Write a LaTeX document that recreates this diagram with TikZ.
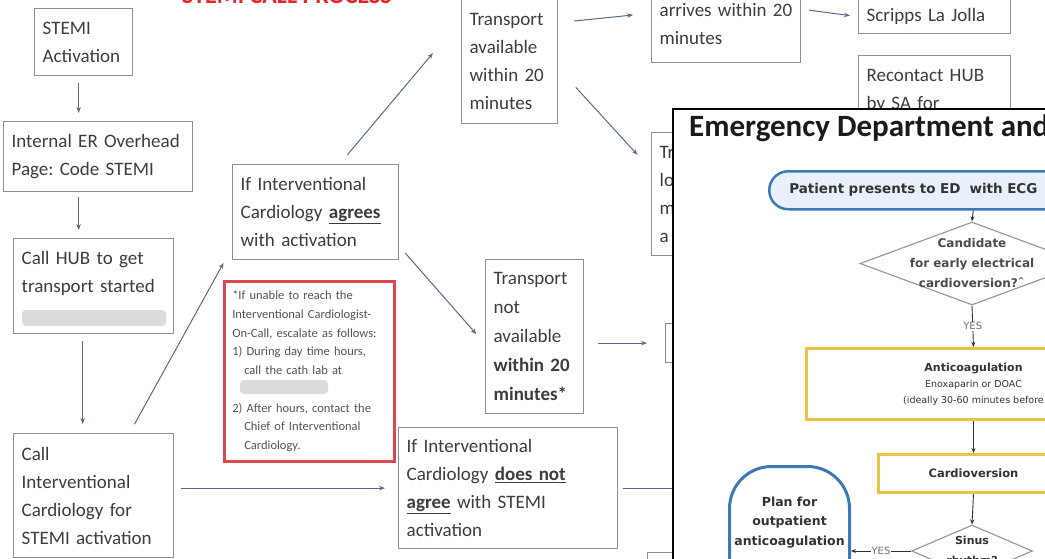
\documentclass[tikz,border=0pt]{standalone}
\usepackage{fontspec}
\setmainfont{Carlito}
\newfontfamily\ovf{DejaVu Sans}
\usetikzlibrary{arrows.meta,shapes.geometric,calc}
\definecolor{boxgray}{HTML}{8F8F8F}
\definecolor{txtc}{HTML}{3D3D3D}
\definecolor{arrowc}{HTML}{5A6A8C}
\definecolor{redc}{HTML}{D9474F}
\definecolor{redtxt}{HTML}{555555}
\definecolor{titlered}{HTML}{E8232A}
\definecolor{bluec}{HTML}{3D7AB5}
\definecolor{lightbluec}{HTML}{E8F1F9}
\definecolor{yellowc}{HTML}{E8C547}
\definecolor{diagray}{HTML}{9A9A9A}
\definecolor{ovtext}{HTML}{333333}
\definecolor{ovtitle}{HTML}{1A1A1A}
\definecolor{yesc}{HTML}{707070}
\begin{document}
\begin{tikzpicture}[x=1pt,y=-1pt,
  bx/.style={draw=boxgray, line width=1.3pt, anchor=north west, align=left,
    inner xsep=8pt, inner ysep=0pt, text=txtc, fill=white,
    font=\fontsize{19}{28}\selectfont},
  arr/.style={draw=arrowc, line width=1pt, -{Stealth[length=6pt,width=4.5pt]}},
  oarr/.style={draw=black!80, line width=0.9pt, -{Stealth[length=5pt,width=4pt]}},
  ovbold/.style={font=\ovf\bfseries\fontsize{12}{20}\selectfont, text=ovtext},
  yeslab/.style={fill=white, inner sep=1pt, font=\ovf\fontsize{10}{11}\selectfont, text=yesc},
  blur/.style={fill=gray!28, draw=none, rounded corners=4pt}
]
\useasboundingbox (0,0) rectangle (1045,558);
\clip (0,0) rectangle (1045,558);
\fill[white] (0,0) rectangle (1045,558);

% ---------- main STEMI flowchart ----------
\node[anchor=base west, inner sep=0, font=\bfseries\fontsize{24}{24}\selectfont, text=titlered] (maintitle) at (182,3) {STEMI CALL PROCESS};

\node[bx, minimum width=98pt, text width=82pt, minimum height=67pt] (stemi) at (34,8) {STEMI\\Activation};
\node[bx, minimum width=189pt, text width=173pt, minimum height=70pt] (er) at (3,121) {Internal~ER~Overhead\\Page:~Code~STEMI};
\node[bx, minimum width=160pt, text width=144pt, minimum height=95pt] (hub) at (13,238) {Call~HUB~to~get\\transport~started\\\mbox{}};
\fill[blur] (22,310) rectangle (166,326);
\node[bx, minimum width=160pt, text width=144pt, minimum height=124pt] (callic) at (13,433) {Call\\Interventional\\Cardiology~for\\STEMI~activation};
\node[bx, minimum width=166pt, text width=150pt, minimum height=95pt] (agree) at (232,164) {If~Interventional\\Cardiology~\underline{\textbf{agrees}}\\with~activation};
\node[bx, draw=redc, line width=2.5pt, minimum width=170pt, text width=154pt, minimum height=180pt, text=redtxt, font=\fontsize{12.5}{18.75}\selectfont] (note) at (223,280) {*If~unable~to~reach~the\\Interventional~Cardiologist-\\On-Call,~escalate~as~follows:\\1)~During~day~time~hours,\\\hspace*{12pt}call~the~cath~lab~at\\\mbox{}\\2)~After~hours,~contact~the\\\hspace*{12pt}Chief~of~Interventional\\\hspace*{12pt}Cardiology.};
\fill[blur] (240,380) rectangle (328,394);
\node[bx, minimum width=96pt, text width=80pt, minimum height=125pt] (tavail) at (461,-2) {Transport\\available\\within~20\\minutes};
\node[bx, minimum width=149pt, text width=133pt, minimum height=77pt] (arrives) at (651,-15) {arrives~within~20\\minutes};
\node[bx, minimum width=152pt, text width=136pt, minimum height=34pt] (scripps) at (858,-1) {Scripps~La~Jolla};
\node[bx, minimum width=152pt, text width=136pt, minimum height=71pt] (recontact) at (858,55) {Recontact~HUB\\by~SA~for};
\node[bx, minimum width=80pt, text width=64pt, minimum height=123pt] (tloc) at (651,132) {Tr\\lo\\m\\a};
\node[bx, minimum width=98pt, text width=82pt, minimum height=154pt, font=\fontsize{19}{29}\selectfont] (tnot) at (485,259) {Transport\\not\\available\\\textbf{within~20}\\\textbf{minutes*}};
\node[bx, minimum width=40pt, minimum height=39pt] (small) at (665,323) {};
\node[bx, minimum width=219pt, text width=203pt, minimum height=121pt] (notagree) at (398,427) {If~Interventional\\Cardiology~\underline{\textbf{does~not}}\\\underline{\textbf{agree}}~with~STEMI\\activation};
\node[bx, minimum width=60pt, minimum height=40pt] (bottombox) at (647,552) {};

% connectors
\draw[arr, shorten <=7pt, shorten >=8pt] ([xshift=-5pt]stemi.south) -- ([xshift=-19.5pt]er.north);
\draw[arr, shorten <=5pt, shorten >=8pt] ([xshift=-19.5pt]er.south) -- ([xshift=-15pt]hub.north);
\draw[arr, shorten <=7pt, shorten >=9pt] ([xshift=-11pt]hub.south) -- ([xshift=-11pt]callic.north);
\draw[arr, shorten <=10pt, shorten >=3pt] ([xshift=36pt]callic.north) -- ([xshift=-7pt]agree.south west);
\draw[arr, shorten <=7pt, shorten >=13pt] (callic.east |- notagree.west) -- (notagree.west);
\coordinate (upend) at (433,53);
\draw[arr, shorten <=12pt] ([xshift=24pt]agree.north) -- (upend);
\draw[arr, shorten <=9pt, shorten >=13pt] ([yshift=14pt]agree.south east) -- ([yshift=-85pt]tnot.north west);
\draw[arr, shorten <=16pt, shorten >=18pt] ([yshift=38.5pt]tavail.east) -- ([yshift=11pt]arrives.west);
\draw[arr, shorten <=26pt, shorten >=20pt] ([yshift=-7pt]tavail.east) -- ([yshift=24.5pt]tloc.west);
\draw[arr, shorten <=8pt, shorten >=8pt] ([yshift=15pt]arrives.east) -- (scripps.west);
\draw[arr, shorten <=14pt, shorten >=18pt] (tnot.east |- small.west) -- (small.west);

% ---------- overlay: Emergency Department flowchart ----------
\node[draw=black, line width=2pt, fill=white, anchor=north west, minimum width=460pt, minimum height=520pt, inner sep=0] (ov) at (672,108) {};
\draw[draw=arrowc, line width=1pt, shorten <=5pt] (notagree.east) -- (notagree.east -| ov.west);
\node[anchor=base west, inner sep=0, font=\bfseries\fontsize{31}{31}\selectfont, text=ovtitle] (ovtitle) at (689,136) {Emergency Department and};

\node[draw=bluec, line width=2.5pt, fill=lightbluec, rounded corners=19pt, anchor=north west,
  minimum width=408pt, minimum height=38pt, text width=368pt, inner xsep=20pt, inner ysep=0pt,
  align=left, font=\ovf\bfseries\fontsize{13.5}{16}\selectfont, text=ovtext] (pat) at (768,170) {Patient~presents~to~ED~~with~ECG};

\node[diamond, draw=diagray, line width=1.2pt, fill=white, minimum width=224pt, minimum height=83pt, inner sep=0pt,
  label={[ovbold, align=center, text=black!70]center:{Candidate\\for early electrical\\cardioversion?\textsuperscript{\textasciicircum}}}] (cand) at (972,263.5) {};
\draw[oarr] (pat.south) -- (cand.north);

\node[draw=yellowc, line width=3pt, fill=white, anchor=north west, minimum width=334pt, minimum height=71pt,
  align=center, inner sep=0pt, font=\ovf\fontsize{9.5}{16}\selectfont, text=ovtext] (anti) at (805,347)
  {{\bfseries\fontsize{11}{16}\selectfont Anticoagulation}\\Enoxaparin or DOAC\\(ideally 30-60 minutes before};
\draw[oarr] (cand.south) -- node[yeslab]{YES} (anti.north);

\node[draw=yellowc, line width=3pt, fill=white, anchor=north west, minimum width=190pt, minimum height=38pt,
  inner sep=0pt, font=\ovf\bfseries\fontsize{11.5}{13}\selectfont, text=ovtext] (cardio) at (877,453) {Cardioversion};
\draw[oarr] (anti.south) -- (cardio.north);

\node[diamond, draw=diagray, line width=1.2pt, fill=white, minimum width=121pt, minimum height=52pt, inner sep=0pt,
  label={[ovbold, align=center, font=\ovf\bfseries\fontsize{11}{20}\selectfont]center:{Sinus\\rhythm?}}] (sinus) at (972,551) {};
\draw[oarr] (cardio.south) -- (sinus.north);

\node[draw=bluec, line width=3pt, fill=white, rounded corners=42pt, anchor=north west, minimum width=120pt, minimum height=170pt, inner sep=0pt,
  label={[ovbold, align=center, anchor=north, yshift=-28pt, font=\ovf\bfseries\fontsize{12.5}{19.5}\selectfont]north:{Plan for\\outpatient\\anticoagulation}}] (plan) at (728,465) {};
\draw[oarr] (sinus.west) -- node[yeslab]{YES} (sinus.west -| plan.east);
\end{tikzpicture}
\end{document}
